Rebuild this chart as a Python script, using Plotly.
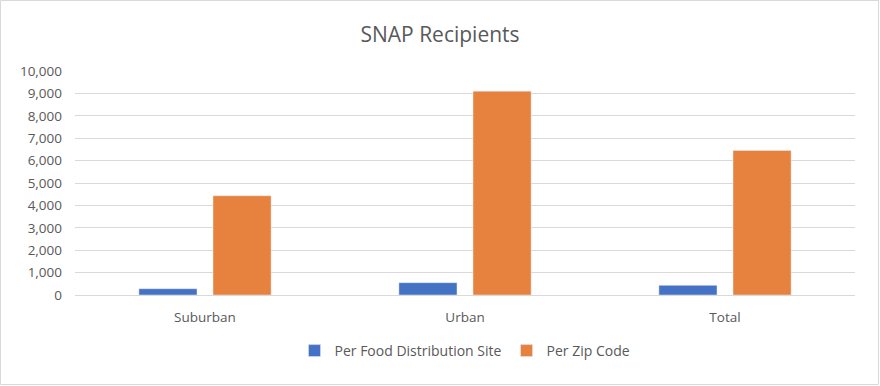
import plotly.graph_objects as go

categories = ["Suburban", "Urban", "Total"]
per_site = [280, 550, 430]
per_zip = [4430, 9100, 6450]
series_names = ["Per Food Distribution Site", "Per Zip Code"]
y_ticks = list(range(0, 10001, 1000))
y_tick_labels = [f"{v:,}" for v in y_ticks]

fig = go.Figure()
fig.add_trace(go.Bar(x=categories, y=per_site, name=series_names[0], marker_color="#4472C4"))
fig.add_trace(go.Bar(x=categories, y=per_zip, name=series_names[1], marker_color="#E6813E"))

fig.update_layout(
    width=880, height=386,
    margin=dict(l=75, r=25, t=71, b=91),
    paper_bgcolor="white", plot_bgcolor="white",
    font=dict(family="Open Sans, Lato, sans-serif", color="#595959", size=13),
    title=dict(text="SNAP Recipients", x=0.5, xanchor="center", y=0.91, yanchor="middle",
               font=dict(size=21, color="#595959")),
    barmode="group", bargap=0.43, bargroupgap=0.216,
    legend=dict(orientation="h", x=0.5, xanchor="center", y=-0.25, yanchor="middle",
                font=dict(size=14, color="#595959"), itemwidth=30),
    yaxis=dict(range=[0, 10000], tickvals=y_ticks, ticktext=y_tick_labels,
               gridcolor="#D9D9D9", zeroline=False, showline=False, ticks="",
               ticklabelstandoff=12, tickfont=dict(size=13.5)),
    xaxis=dict(showline=True, linecolor="#D9D9D9", ticks="", showgrid=False,
               ticklabelstandoff=10, tickfont=dict(size=13.5)),
    shapes=[dict(type="rect", xref="paper", yref="paper", x0=-74.5/780, x1=1+23.5/780,
                 y0=-89.5/224, y1=1+70.5/224, line=dict(color="#D9D9D9", width=1))],
)

fig.write_html("out.html", config={"displayModeBar": False},
               post_script="document.body.style.margin='0';")
